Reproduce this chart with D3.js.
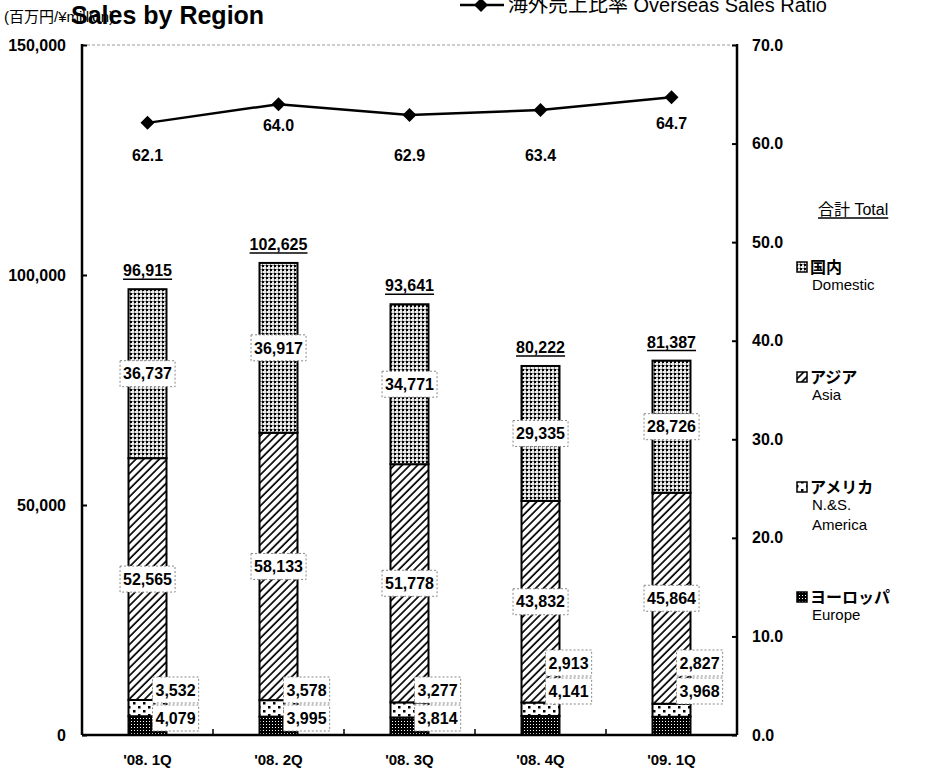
<!DOCTYPE html>
<html lang="ja">
<head>
<meta charset="utf-8">
<title>Sales by Region</title>
<script src="https://d3js.org/d3.v7.min.js"></script>
<style>
  body { margin: 0; background: #fff; }
  #chart text { font-family: "Liberation Sans", "Noto Sans CJK JP", sans-serif; fill: #000; }
</style>
</head>
<body>
<div id="chart"></div>
<script>
"use strict"

// dados
var quarters  = ["'08. 1Q", "'08. 2Q", "'08. 3Q", "'08. 4Q", "'09. 1Q"];
var europe    = [4079, 3995, 3814, 4141, 3968];
var america   = [3532, 3578, 3277, 2913, 2827];
var asia      = [52565, 58133, 51778, 43832, 45864];
var domestic  = [36737, 36917, 34771, 29335, 28726];
var totals    = [96915, 102625, 93641, 80222, 81387];
var ratio     = [62.1, 64.0, 62.9, 63.4, 64.7];
var leftTicks  = [0, 50000, 100000, 150000];
var rightTicks = [0, 10, 20, 30, 40, 50, 60, 70];

// ajustes de posicao dos rotulos (layout)
var ratioLabelDy = [32, 21, 40, 45, 26];
var smallLabelLift = [0, 0, 0, 27, 27];

var larguraSVG = 940, alturaSVG = 770;
var margin = {top: 45, right: 203, bottom: 35, left: 82},
    larguraVis = larguraSVG - margin.left - margin.right,
    alturaVis = alturaSVG - margin.top - margin.bottom;

var svg = d3.select('#chart').append('svg')
    .attr('width', larguraSVG)
    .attr('height', alturaSVG);

// padroes de preenchimento
var defs = svg.append('defs');

var pDom = defs.append('pattern').attr('id', 'p-dom')
    .attr('width', 4).attr('height', 4).attr('patternUnits', 'userSpaceOnUse');
pDom.append('rect').attr('width', 4).attr('height', 4).attr('fill', '#eee');
pDom.append('rect').attr('width', 2).attr('height', 2).attr('fill', '#000');
pDom.append('rect').attr('x', 2).attr('width', 2).attr('height', 1).attr('fill', '#888');
pDom.append('rect').attr('y', 2).attr('width', 1).attr('height', 2).attr('fill', '#888');

var pAsia = defs.append('pattern').attr('id', 'p-asia')
    .attr('width', 5.5).attr('height', 5.5).attr('patternUnits', 'userSpaceOnUse')
    .attr('patternTransform', 'rotate(45)');
pAsia.append('rect').attr('width', 5.5).attr('height', 5.5).attr('fill', '#fff');
pAsia.append('line').attr('x1', 1).attr('x2', 1).attr('y1', 0).attr('y2', 5.5)
    .attr('stroke', '#000').attr('stroke-width', 1.7);

var pAm = defs.append('pattern').attr('id', 'p-am')
    .attr('width', 10).attr('height', 8).attr('patternUnits', 'userSpaceOnUse');
pAm.append('rect').attr('width', 10).attr('height', 8).attr('fill', '#fff');
pAm.append('rect').attr('x', 1).attr('y', 1).attr('width', 2.5).attr('height', 2.5).attr('fill', '#000');
pAm.append('rect').attr('x', 6).attr('y', 5).attr('width', 2.5).attr('height', 2.5).attr('fill', '#000');

var pEu = defs.append('pattern').attr('id', 'p-eu')
    .attr('width', 3).attr('height', 3).attr('patternUnits', 'userSpaceOnUse');
pEu.append('rect').attr('width', 3).attr('height', 3).attr('fill', '#000');
pEu.append('rect').attr('x', 1).attr('y', 1).attr('width', 1).attr('height', 1).attr('fill', '#fff');

var fills = {europe: 'url(#p-eu)', america: 'url(#p-am)', asia: 'url(#p-asia)', domestic: 'url(#p-dom)'};

var grafico = svg.append('g')
    .attr('transform', 'translate(' + margin.left + ',' + margin.top + ')');

/*
 * As escalas
 */
var x = d3.scaleBand()
    .domain(quarters)
    .range([0, larguraVis])
    .paddingInner(0.71)
    .paddingOuter(0.355);

var y = d3.scaleLinear().domain([0, 150000]).range([alturaVis, 0]);
var y2 = d3.scaleLinear().domain([0, 70]).range([alturaVis, 0]);

var keys = ['europe', 'america', 'asia', 'domestic'];
var linhas = quarters.map(function(q, i) {
  return {q: q, europe: europe[i], america: america[i], asia: asia[i], domestic: domestic[i]};
});
var pilhas = d3.stack().keys(keys)(linhas);

// linha pontilhada do topo
grafico.append('line')
    .attr('x1', 0).attr('x2', larguraVis).attr('y1', y(150000)).attr('y2', y(150000))
    .attr('stroke', '#999').attr('stroke-width', 1).attr('stroke-dasharray', '3,2');

/*
 * As barras
 */
pilhas.forEach(function(serie) {
  grafico.append('g').selectAll('rect')
      .data(serie)
      .enter().append('rect')
        .attr('x', d => x(d.data.q))
        .attr('width', x.bandwidth())
        .attr('y', d => y(d[1]))
        .attr('height', d => y(d[0]) - y(d[1]))
        .attr('fill', fills[serie.key])
        .attr('stroke', '#000')
        .attr('stroke-width', 2);
});

/*
 * Os eixos
 */
var eixoEsq = grafico.append('g')
    .call(d3.axisLeft(y).tickValues(leftTicks).tickSize(-5).tickPadding(16)
      .tickFormat(d3.format(',')));
var eixoDir = grafico.append('g')
    .attr('transform', 'translate(' + larguraVis + ',0)')
    .call(d3.axisRight(y2).tickValues(rightTicks).tickSize(-5).tickPadding(15)
      .tickFormat(d3.format('.1f')));
[eixoEsq, eixoDir].forEach(function(e) {
  e.select('.domain').attr('d', null);
  e.selectAll('.tick line').attr('stroke-width', 2);
  e.selectAll('.tick text').style('font-size', '16px').style('font-weight', 'bold');
  e.append('line').attr('x1', 0).attr('x2', 0).attr('y1', -1).attr('y2', alturaVis)
      .attr('stroke', '#000').attr('stroke-width', 2.5);
});

var eixoX = grafico.append('g')
    .attr('transform', 'translate(0,' + alturaVis + ')');
eixoX.append('line').attr('x1', 0).attr('x2', larguraVis)
    .attr('stroke', '#000').attr('stroke-width', 2.5);
eixoX.selectAll('line.tk')
    .data(d3.range(quarters.length + 1))
    .enter().append('line')
      .attr('class', 'tk')
      .attr('x1', i => i * x.step()).attr('x2', i => i * x.step())
      .attr('y1', 0).attr('y2', -6)
      .attr('stroke', '#000').attr('stroke-width', 1.5);
eixoX.selectAll('text')
    .data(quarters)
    .enter().append('text')
      .attr('x', d => x(d) + x.bandwidth() / 2)
      .attr('y', 30)
      .attr('text-anchor', 'middle')
      .style('font-size', '15px')
      .style('font-weight', 'bold')
      .text(d => d);

/*
 * Rotulos dos valores
 */
var fmt = d3.format(',');
function caixa(g, cx, cy, texto, anchor) {
  var t = g.append('text')
      .attr('x', cx).attr('y', cy).attr('dy', '0.36em')
      .attr('text-anchor', anchor)
      .style('font-size', '16px')
      .style('font-weight', 'bold')
      .text(texto);
  var b = t.node().getBBox();
  g.insert('rect', function() { return t.node(); })
      .attr('x', b.x - 3).attr('y', cy - 13)
      .attr('width', b.width + 6).attr('height', 26)
      .attr('fill', '#fff')
      .attr('stroke', '#888').attr('stroke-width', 1).attr('stroke-dasharray', '2,2');
}

var rotulos = grafico.append('g');
pilhas.forEach(function(serie) {
  serie.forEach(function(d, i) {
    var cx = x(d.data.q) + x.bandwidth() / 2;
    var v = d.data[serie.key];
    if (serie.key === 'domestic' || serie.key === 'asia') {
      caixa(rotulos, cx, y((d[0] + d[1]) / 2), fmt(v), 'middle');
    } else if (serie.key === 'america') {
      caixa(rotulos, cx + 8, y(0) - 45 - smallLabelLift[i], fmt(v), 'start');
    } else {
      caixa(rotulos, cx + 8, y(0) - 17 - smallLabelLift[i], fmt(v), 'start');
    }
  });
});

// totais sublinhados
totals.forEach(function(t, i) {
  var cx = x(quarters[i]) + x.bandwidth() / 2;
  var tx = rotulos.append('text')
      .attr('x', cx).attr('y', y(t) - 13)
      .attr('text-anchor', 'middle')
      .style('font-size', '16px')
      .style('font-weight', 'bold')
      .text(fmt(t));
  var b = tx.node().getBBox();
  rotulos.append('line')
      .attr('x1', b.x).attr('x2', b.x + b.width)
      .attr('y1', y(t) - 10).attr('y2', y(t) - 10)
      .attr('stroke', '#000').attr('stroke-width', 1.5);
});

/*
 * Linha do ratio
 */
var diamante = 'M0,-7L7,0L0,7L-7,0Z';
var linha = d3.line()
    .x((d, i) => x(quarters[i]) + x.bandwidth() / 2)
    .y(d => y2(d));
grafico.append('path')
    .datum(ratio)
    .attr('d', linha)
    .attr('fill', 'none')
    .attr('stroke', '#000')
    .attr('stroke-width', 2.5);
grafico.selectAll('path.pt')
    .data(ratio)
    .enter().append('path')
      .attr('class', 'pt')
      .attr('d', diamante)
      .attr('transform', (d, i) => 'translate(' + (x(quarters[i]) + x.bandwidth() / 2) + ',' + y2(d) + ')')
      .attr('fill', '#000');
grafico.selectAll('text.rt')
    .data(ratio)
    .enter().append('text')
      .attr('class', 'rt')
      .attr('x', (d, i) => x(quarters[i]) + x.bandwidth() / 2)
      .attr('y', (d, i) => y2(d) + ratioLabelDy[i])
      .attr('dy', '0.36em')
      .attr('text-anchor', 'middle')
      .style('font-size', '16px')
      .style('font-weight', 'bold')
      .text(d => d.toFixed(1));

/*
 * Titulos
 */
svg.append('text')
    .attr('x', 4).attr('y', 22)
    .style('font-size', '15px')
    .text('(百万円/¥million)');
svg.append('text')
    .attr('x', 71).attr('y', 24)
    .style('font-size', '25px')
    .style('font-weight', 'bold')
    .text('Sales by Region');

// legenda do topo
svg.append('line').attr('x1', 460).attr('x2', 504).attr('y1', 5).attr('y2', 5)
    .attr('stroke', '#000').attr('stroke-width', 2.5);
svg.append('path').attr('d', diamante).attr('transform', 'translate(481,5)').attr('fill', '#000');
svg.append('text')
    .attr('x', 508).attr('y', 12)
    .style('font-size', '20px')
    .text('海外売上比率 Overseas Sales Ratio');

// legenda da direita
var leg = svg.append('g');
var totTxt = leg.append('text')
    .attr('x', 818).attr('y', 215)
    .style('font-size', '16px')
    .text('合計 Total');
var tb = totTxt.node().getBBox();
leg.append('line').attr('x1', tb.x).attr('x2', tb.x + tb.width)
    .attr('y1', 218).attr('y2', 218).attr('stroke', '#000').attr('stroke-width', 1.5);

var legItems = [
  {key: 'domestic', y: 267, lines: ['国内', 'Domestic']},
  {key: 'asia', y: 377, lines: ['アジア', 'Asia']},
  {key: 'america', y: 487, lines: ['アメリカ', 'N.&S.', 'America']},
  {key: 'europe', y: 597, lines: ['ヨーロッパ', 'Europe']}
];
legItems.forEach(function(it) {
  leg.append('rect')
      .attr('x', 797).attr('y', it.y - 5).attr('width', 10).attr('height', 10)
      .attr('fill', fills[it.key]).attr('stroke', '#000').attr('stroke-width', 1.5);
  it.lines.forEach(function(l, j) {
    leg.append('text')
        .attr('x', j === 0 ? 810 : 812)
        .attr('y', it.y + 6 + (j > 0 ? j * 20 - 3 : 0))
        .style('font-size', j === 0 ? '16px' : '15px')
        .style('font-weight', j === 0 ? 'bold' : 'normal')
        .text(l);
  });
});
</script>
</body>
</html>
